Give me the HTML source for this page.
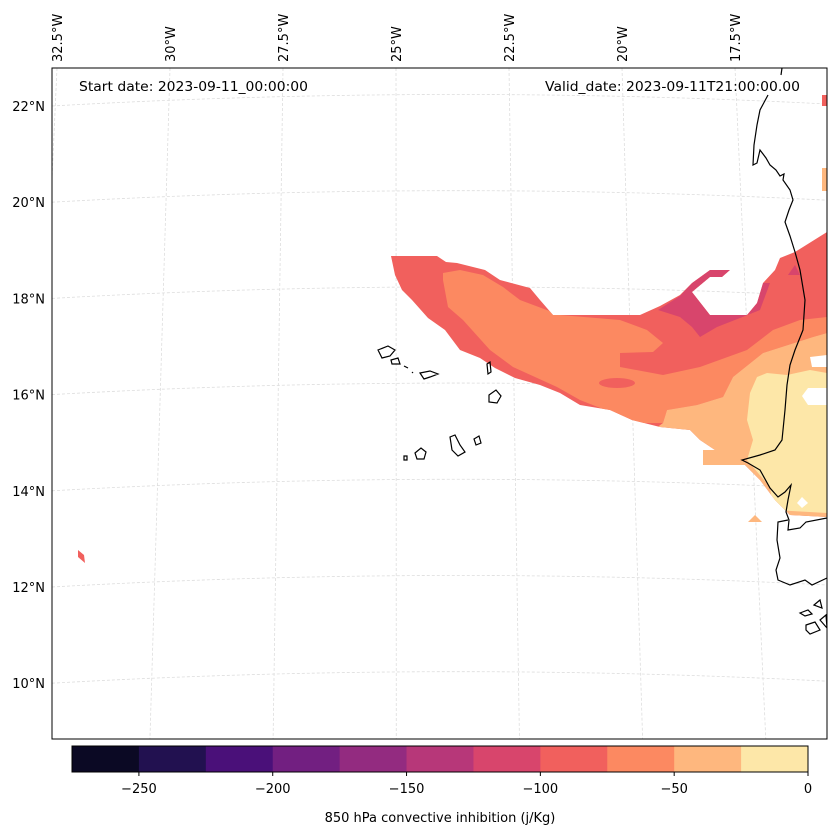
<!DOCTYPE html>
<html><head><meta charset="utf-8"><style>
html,body{margin:0;padding:0;background:#fff;}
svg{display:block;font-family:"DejaVu Sans","Liberation Sans",sans-serif;}
</style></head><body>
<svg id="fig" width="837" height="836" viewBox="0 0 837 836" xmlns="http://www.w3.org/2000/svg">
<defs>
<clipPath id="mapclip"><rect x="52" y="68" width="775" height="671"/></clipPath>
<clipPath id="env"><path d="M391,256 L437,256 L446,262 L457,263 L485,270 L500,280 L530,288 L540,300 L553,315 L640,315 L660,306 L680,295 L692,283 L710,270 L730,270 L722,277 L710,277 L692,292 L710,315 L747,315 L757,303 L763,283 L775,270 L780,258 L795,252 L827,232 L827,517 L790,515 L775,500 L760,480 L745,465 L703,465 L703,450 L715,450 L700,440 L690,430 L660,427 L632,420 L610,410 L580,405 L560,393 L540,385 L515,378 L495,368 L480,358 L460,350 L445,330 L428,318 L412,300 L402,290 L395,275 Z"/></clipPath>
</defs>
<g id="grid" stroke="#ddd" stroke-width="0.8" stroke-dasharray="3,2" fill="none" clip-path="url(#mapclip)"></g>
<g id="fills" clip-path="url(#mapclip)">
  <g clip-path="url(#env)">
    <rect x="380" y="220" width="460" height="320" fill="#f1605d"/>
    <path fill="#fc8961" d="M443,273 L460,270 L483,275 L503,287 L520,300 L560,315 L620,320 L647,330 L663,343 L653,352 L620,353 L620,367 L663,375 L700,367 L747,350 L773,330 L800,320 L827,317 L827,333 L813,337 L763,353 L733,377 L723,397 L697,405 L667,410 L663,423 L637,423 L613,413 L580,400 L557,387 L513,367 L490,350 L463,320 L448,307 L443,280 Z"/>
    <ellipse cx="617" cy="383" rx="18" ry="5" fill="#f1605d"/>
    <path fill="#feb77e" d="M640,440 L663,423 L667,410 L697,405 L723,397 L733,377 L763,353 L813,337 L827,333 L827,560 L640,560 Z"/>
    <path fill="#fde7a8" d="M767,373 L787,375 L810,370 L827,373 L827,513 L773,510 L770,487 L747,460 L753,440 L747,420 L750,393 L757,377 Z"/>
    <path fill="#d8456c" d="M658,310 L680,296 L692,283 L710,270 L730,270 L722,277 L710,277 L692,292 L710,315 L747,315 L757,303 L763,283 L770,283 L760,310 L740,318 L717,327 L700,337 L692,327 L680,317 Z"/>
    <path fill="#d8456c" d="M788,275 L795,265 L800,275 Z"/>
  </g>
  <path fill="#fff" d="M810,357 L827,355 L827,367 L812,367 Z"/>
  <path fill="#fff" d="M802,396 L808,388 L827,388 L827,405 L808,405 Z"/>
  <path fill="#fff" d="M797,503 L802,497 L808,503 L802,508 Z"/>
  <path fill="#feb77e" d="M748,522 L762,522 L755,515 Z"/>
  <rect x="822" y="95" width="6" height="11" fill="#f1605d"/>
  <rect x="822" y="168" width="6" height="23" fill="#feb77e"/>
  <path fill="#f1605d" d="M78,550 L84,555 L85,563 L78,557 Z"/>
</g>
<g fill="none" stroke="#000" stroke-width="1.2" clip-path="url(#mapclip)">
  <path d="M782,68 L781,75 M768,95 L760,110 L757,125 L754,145 L753,165 L757,163 L760,150 L766,158 L770,165 L776,170 L780,176 L784,174 L783,180 L790,190 L793,200 L789,210 L785,222 L790,236 L795,252 L800,270 L805,300 L803,330 L795,350 L790,365 L787,385 L785,410 L782,440 L775,450 L760,455 L742,460 L748,463 L760,470 L770,488 L778,497 L785,492 L791,485 L788,500 L786,512 L789,520 L788,530 L800,528 L806,522 L827,518"/>
  <path d="M788,520 L778,522 L777,540 L780,558 L776,570 L778,580 L790,585 L805,580 L812,585 L827,578"/>
  <path d="M800,613 L808,610 L812,614 L805,616 Z M806,625 L815,622 L820,630 L810,634 L806,630 Z M814,605 L820,600 L822,608 Z M820,620 L826,615 L827,628 Z"/>
  <path d="M378,350 L388,346 L395,350 L390,356 L382,358 Z M391,360 L398,358 L400,364 L392,364 Z M404,366 L408,368 M412,372 L413,373 M420,373 L430,371 L438,374 L430,377 L424,379 Z M487,364 L490,362 L491,372 L488,374 Z M489,395 L496,390 L501,396 L497,403 L489,402 Z M450,437 L455,435 L460,445 L465,452 L458,456 L452,450 Z M474,439 L479,436 L481,443 L476,445 Z M415,453 L421,448 L426,452 L424,459 L417,459 Z M404,456 L407,456 L407,460 L404,460 Z"/>
</g>
<rect x="52" y="68" width="775" height="671" fill="none" stroke="#000" stroke-width="1"/>
<text x="79" y="91" font-size="13" textLength="229" lengthAdjust="spacingAndGlyphs">Start date: 2023-09-11_00:00:00</text>
<text x="545" y="91" font-size="13" textLength="255" lengthAdjust="spacingAndGlyphs">Valid_date: 2023-09-11T21:00:00.00</text>
<g id="latlabels" font-size="13" text-anchor="end"></g>
<g id="lonlabels" font-size="13"></g>
<g id="cbar"></g>
<text x="440" y="822" font-size="13" text-anchor="middle">850 hPa convective inhibition (j/Kg)</text>
</svg>
<script>
const levels = [-275,-250,-225,-200,-175,-150,-125,-100,-75,-50,-25,0];
const colors = ["#0b0924","#221150","#4a1079","#721f81","#932b80","#b73779","#d8456c","#f1605d","#fc8961","#feb77e","#fde7a8"];
const tickVals = [-250,-200,-150,-100,-50,0];
const tickLabels = ["\u2212250","\u2212200","\u2212150","\u2212100","\u221250","0"];
const latVals = [22,20,18,16,14,12,10];
const lonVals = [32.5,30,27.5,25,22.5,20,17.5];
const NS = "http://www.w3.org/2000/svg";
function mk(tag, attrs, parent){const e=document.createElementNS(NS,tag);for(const k in attrs)e.setAttribute(k,attrs[k]);parent.appendChild(e);return e;}
const cx0=72, cx1=808, cy=746, ch=26;
const cbX = v => cx0 + (v - levels[0])/(levels[levels.length-1]-levels[0])*(cx1-cx0);
const cb=document.getElementById('cbar');
for(let i=0;i<colors.length;i++){
  const r=mk('rect',{x:cbX(levels[i]),y:cy,width:cbX(levels[i+1])-cbX(levels[i])+0.5,height:ch,fill:colors[i]},cb);
  
  
}
const fr=mk('rect',{x:cx0,y:cy,width:cx1-cx0,height:ch,fill:'none',stroke:'#000','stroke-width':1},cb);


tickVals.forEach((v,i)=>{
  const x=cbX(v);
  mk('line',{x1:x,x2:x,y1:cy+ch,y2:cy+ch+4,stroke:'#000'},cb);
  const t=mk('text',{x:x,y:cy+ch+21,'font-size':13,'text-anchor':'middle'},cb);
  t.textContent=tickLabels[i];
  
  
});
const latY = lat => 106 + (22-lat)*48.1;
const lonX = lon => 57 + (32.5-lon)*45.2;
const g=document.getElementById('grid');
latVals.forEach(lat=>{
  const y=latY(lat);
  const p=mk('path',{d:`M52,${y} Q440,${y-22} 827,${y-2}`},g);
  
  
  const t=mk('text',{x:45,y:y+5},document.getElementById('latlabels'));
  t.textContent=lat+"\u00b0N";
  
  
});
lonVals.forEach(lon=>{
  const x=lonX(lon);
  const slope=(x-393)*0.1;
  const p=mk('path',{d:`M${x},68 L${x+slope*0.9},739`},g);
  
  
  const t=mk('text',{x:0,y:0,transform:`translate(${x+5},62) rotate(-90)`},document.getElementById('lonlabels'));
  t.textContent=lon+"\u00b0W";
  
  
});
</script>
</body></html>
